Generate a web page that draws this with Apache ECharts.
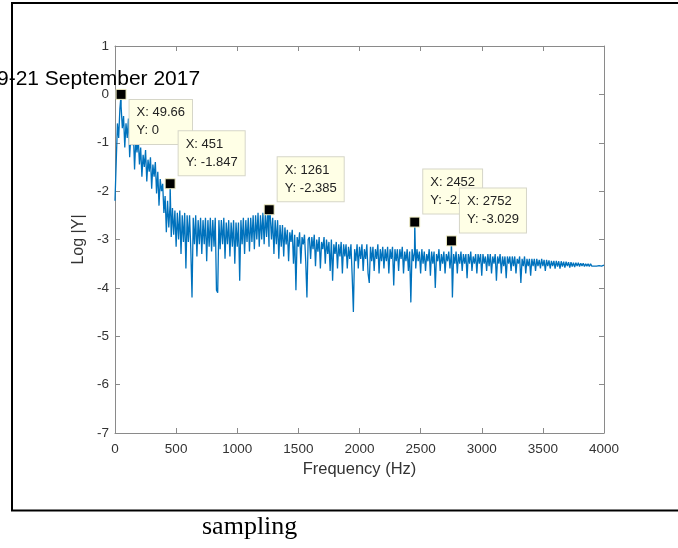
<!DOCTYPE html>
<html>
<head>
<meta charset="utf-8">
<script src="https://cdn.jsdelivr.net/npm/echarts@6/dist/echarts.min.js"></script>
<style>
  html, body { margin: 0; padding: 0; background: #fff; }
  #chart { width: 678px; height: 548px; }
</style>
</head>
<body>
<div id="chart"></div>
<script>
// spectrum, one value every 10 Hz from 0 to 4000 Hz
var freqStep = 10
var logY = [
  -2.2, -1.4, -0.6, -0.9, -0.3, -0.25, -0.7, -0.45, -1.1, -0.6, -0.9, -0.5, -1.3, -0.8, -1.05, -0.75, -1.55, -0.95, -1.2, -0.9,
  -1.45, -1.1, -1.7, -1.25, -1.5, -1.15, -1.8, -1.35, -1.6, -1.3, -1.95, -1.45, -1.7, -1.4, -2.05, -1.6, -2.3, -1.75, -2.0, -1.85,
  -2.45, -2.1, -2.85, -2.2, -2.75, -2.3, -2.95, -2.35, -2.9, -2.4, -3.15, -2.45, -3.0, -2.4, -3.3, -2.5, -3.05, -2.45, -3.6, -2.5,
  -3.05, -2.5, -3.2, -4.2, -2.55, -3.1, -2.5, -3.35, -2.6, -3.1, -2.55, -3.3, -2.6, -3.1, -2.55, -3.45, -2.6, -3.15, -2.55, -3.25,
  -2.6, -3.15, -2.55, -4.05, -4.1, -2.6, -3.2, -2.6, -3.1, -2.55, -3.4, -2.65, -3.1, -2.6, -3.35, -2.65, -3.15, -2.6, -3.5, -2.65,
  -3.15, -2.65, -3.85, -2.6, -3.1, -2.55, -3.3, -2.6, -3.05, -2.55, -3.25, -2.55, -3.05, -2.5, -3.2, -2.5, -3.0, -2.45, -3.15, -2.5,
  -3.0, -2.45, -3.1, -2.45, -2.95, -2.4, -3.15, -2.5, -3.0, -2.55, -3.3, -2.6, -3.1, -2.6, -3.4, -2.7, -3.15, -2.7, -3.35, -2.75,
  -3.1, -2.8, -3.45, -2.85, -3.05, -2.8, -3.5, -2.9, -4.05, -2.95, -3.15, -2.85, -3.5, -2.95, -3.1, -2.9, -3.45, -4.2, -3.0, -2.95,
  -3.4, -2.95, -3.2, -2.9, -3.55, -3.0, -3.25, -2.95, -3.6, -3.05, -3.2, -2.95, -3.5, -3.0, -3.3, -3.05, -3.65, -3.0, -3.85, -3.1,
  -3.3, -3.05, -3.6, -3.1, -3.35, -3.05, -3.7, -3.1, -3.35, -3.1, -3.6, -3.15, -3.4, -3.1, -3.75, -4.5, -3.2, -3.45, -3.1, -3.6,
  -3.15, -3.4, -3.1, -3.65, -3.2, -3.4, -3.1, -3.7, -3.9, -3.15, -3.45, -3.15, -3.65, -3.2, -3.4, -3.1, -3.7, -3.2, -3.45, -3.15,
  -3.6, -3.2, -3.45, -3.15, -3.7, -3.2, -3.4, -3.15, -3.95, -3.2, -3.45, -3.2, -3.65, -3.2, -3.4, -3.15, -3.7, -3.25, -3.45, -3.2,
  -3.65, -3.25, -4.3, -3.2, -3.45, -3.25, -3.6, -3.2, -3.45, -3.25, -3.7, -3.2, -3.5, -3.25, -3.65, -3.3, -3.45, -3.2, -3.75, -3.25,
  -3.5, -3.25, -4.0, -3.3, -3.45, -3.2, -3.65, -3.3, -3.5, -3.25, -3.7, -3.3, -3.45, -3.25, -3.6, -3.3, -4.2, -3.3, -3.5, -3.25,
  -3.7, -3.3, -3.5, -3.25, -3.65, -3.3, -3.5, -3.3, -3.8, -3.3, -3.5, -3.25, -3.65, -3.35, -3.5, -3.3, -3.7, -3.3, -3.5, -3.3,
  -3.75, -3.3, -3.5, -3.35, -3.65, -3.3, -3.55, -3.3, -3.7, -3.35, -3.5, -3.3, -3.85, -3.35, -3.5, -3.3, -3.7, -3.35, -3.55, -3.35,
  -3.8, -3.35, -3.5, -3.35, -3.65, -3.35, -3.55, -3.35, -3.7, -3.4, -3.5, -3.35, -3.9, -3.4, -3.55, -3.35, -3.7, -3.4, -3.55, -3.4,
  -3.75, -3.4, -3.55, -3.4, -3.65, -3.4, -3.55, -3.42, -3.6, -3.4, -3.55, -3.42, -3.65, -3.42, -3.55, -3.43, -3.6, -3.44, -3.55, -3.44,
  -3.6, -3.44, -3.56, -3.45, -3.6, -3.45, -3.56, -3.46, -3.58, -3.46, -3.55, -3.47, -3.58, -3.47, -3.56, -3.48, -3.57, -3.48, -3.55, -3.48,
  -3.56, -3.49, -3.55, -3.49, -3.56, -3.5, -3.55, -3.5, -3.56, -3.5, -3.55, -3.51, -3.55, -3.51, -3.55, -3.51, -3.54, -3.52, -3.55, -3.52,
  -3.53
]

// data tips
var tipX = [49.66, 451, 1261, 2452, 2752]
var tipY = [0, -1.847, -2.385, -2.64, -3.029]
var tipText = ['0', '-1.847', '-2.385', '-2.64', '-3.029']

var points = logY.map(function (v, i) { return [i * freqStep, v] })
tipX.forEach(function (x, i) { points.push([x, tipY[i]]) })
points.sort(function (a, b) { return a[0] - b[0] })

var tips = tipX.map(function (x, i) {
  return {
    value: [x, tipY[i]],
    label: { position: i === 0 ? [14, 11] : [14, -47] }
  }
})

var font = 'Helvetica, Arial, "Liberation Sans", sans-serif'
var boxColor = '#8a8a8a'

function frameAxis (extra) {
  return Object.assign({
    type: 'value',
    axisLine: { onZero: false, lineStyle: { color: boxColor } },
    axisTick: { inside: true, length: 5, lineStyle: { color: boxColor } },
    splitLine: { show: false }
  }, extra)
}

var chart = echarts.init(document.getElementById('chart'))
chart.setOption({
  animation: false,
  grid: { left: 115, top: 46, right: 74, bottom: 115 },
  xAxis: [
    frameAxis({
      min: 0, max: 4000, interval: 500,
      name: 'Frequency (Hz)', nameLocation: 'middle', nameGap: 28,
      nameTextStyle: { color: '#333', fontSize: 16.5, fontFamily: font },
      axisLabel: { color: '#333', fontSize: 13.5, fontFamily: font, margin: 9,
        formatter: function (v) { return String(v) } }
    }),
    frameAxis({ position: 'top', min: 0, max: 4000, interval: 500, axisLabel: { show: false } })
  ],
  yAxis: [
    frameAxis({
      min: -7, max: 1, interval: 1,
      name: 'Log |Y|', nameLocation: 'middle', nameGap: 24,
      nameTextStyle: { color: '#333', fontSize: 16, fontFamily: font },
      axisLabel: { color: '#333', fontSize: 13.5, fontFamily: font, margin: 6 }
    }),
    frameAxis({ position: 'right', min: -7, max: 1, interval: 1, axisLabel: { show: false } })
  ],
  series: [
    {
      type: 'line',
      data: points,
      showSymbol: false,
      lineStyle: { color: '#0072bd', width: 1.3 },
      z: 2
    },
    {
      type: 'scatter',
      data: tips,
      symbol: 'rect',
      symbolSize: 10,
      itemStyle: { color: '#000', borderColor: '#f3f1c8', borderWidth: 1, opacity: 1 },
      label: {
        show: true,
        align: 'left',
        verticalAlign: 'top',
        formatter: function (p) {
          return 'X: ' + tipX[p.dataIndex] + '\nY: ' + tipText[p.dataIndex]
        },
        color: '#222',
        fontSize: 13,
        fontFamily: font,
        lineHeight: 18,
        padding: [4, 7],
        backgroundColor: '#ffffe6',
        borderColor: '#d6d6c8',
        borderWidth: 1
      },
      z: 5
    }
  ],
  graphic: [
    { type: 'line', shape: { x1: 12, y1: 3, x2: 678, y2: 3 }, style: { stroke: '#000', lineWidth: 2 } },
    { type: 'line', shape: { x1: 12, y1: 2, x2: 12, y2: 511 }, style: { stroke: '#000', lineWidth: 2 } },
    { type: 'line', shape: { x1: 11, y1: 510.5, x2: 678, y2: 510.5 }, style: { stroke: '#000', lineWidth: 2 } },
    { type: 'text', left: -3, top: 69, z: 10,
      style: { text: '9-21 September 2017', fill: '#000', fontSize: 21, fontFamily: font } },
    { type: 'text', left: 202, top: 514,
      style: { text: 'sampling', fill: '#000', fontSize: 26, fontFamily: '"Liberation Serif", "Times New Roman", serif' } }
  ]
})
</script>
</body>
</html>
